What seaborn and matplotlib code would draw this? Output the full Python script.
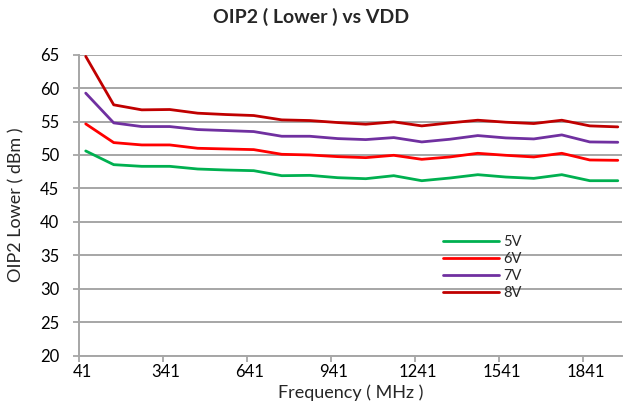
import matplotlib
matplotlib.use("Agg")
import matplotlib.pyplot as plt
import matplotlib.transforms as mtransforms
import seaborn as sns
import pandas as pd

freq = [65 + 100 * k for k in range(20)]
v5 = [50.6, 48.55, 48.3, 48.3, 47.9, 47.75, 47.65, 46.9, 46.95, 46.6,
      46.45, 46.9, 46.15, 46.55, 47.05, 46.7, 46.5, 47.05, 46.15, 46.15]
v6 = [54.65, 51.85, 51.5, 51.5, 51.0, 50.9, 50.8, 50.1, 50.0, 49.75,
      49.6, 49.95, 49.35, 49.7, 50.25, 49.95, 49.7, 50.25, 49.25, 49.2]
v7 = [59.25, 54.8, 54.25, 54.25, 53.8, 53.65, 53.5, 52.8, 52.8, 52.45,
      52.3, 52.6, 51.95, 52.35, 52.9, 52.55, 52.4, 53.0, 51.95, 51.9]
v8 = [64.75, 57.5, 56.75, 56.8, 56.25, 56.05, 55.9, 55.25, 55.15, 54.85,
      54.6, 54.95, 54.35, 54.8, 55.2, 54.9, 54.7, 55.2, 54.35, 54.2]
series_names = ["5V", "6V", "7V", "8V"]
colors = ["#00B050", "#FF0000", "#7030A0", "#C00000"]
xticks = [41, 341, 641, 941, 1241, 1541, 1841]
yticks = [20, 25, 30, 35, 40, 45, 50, 55, 60, 65]

rows = []
for name, vals in zip(series_names, [v5, v6, v7, v8]):
    for f, v in zip(freq, vals):
        rows.append({"Frequency": f, "OIP2": v, "VDD": name})
df = pd.DataFrame(rows)

sns.set_theme(style="white")
plt.rcParams["font.family"] = ["Lato", "DejaVu Sans"]

fig = plt.figure(figsize=(6.23, 4.13), dpi=100)
ax = fig.add_axes([79 / 623, 1 - 355.5 / 413, (622 - 79) / 623, (355.5 - 54.7) / 413])

grid_c = "#A6A6A6"
for y in yticks:
    ax.axhline(y, color=grid_c, lw=1.4, zorder=0)

sns.lineplot(data=df, x="Frequency", y="OIP2", hue="VDD", palette=colors,
             hue_order=series_names, linewidth=2.0, ax=ax, legend=True, zorder=3)

ax.set_xlim(41, 1980)
ax.set_ylim(20, 65)
ax.set_xticks(xticks)
ax.set_xticklabels([str(t) for t in xticks])
ax.set_yticks(yticks)
ax.tick_params(axis="both", labelsize=12, labelcolor="#000000", color=grid_c,
               length=4.3, width=1.3, direction="out")
ax.tick_params(axis="y", pad=10)
ax.tick_params(axis="x", pad=2)
ax.xaxis.set_ticks_position("bottom")
ax.yaxis.set_ticks_position("left")
shift = mtransforms.ScaledTranslation(3 / 100, 0, fig.dpi_scale_trans)
for lbl in ax.get_xticklabels():
    lbl.set_transform(lbl.get_transform() + shift)
for s in ["top", "right"]:
    ax.spines[s].set_visible(False)
for s in ["left", "bottom"]:
    ax.spines[s].set_color(grid_c)
    ax.spines[s].set_linewidth(1.4)

ax.set_xlabel("Frequency ( MHz )", fontsize=13, labelpad=3)
ax.set_ylabel("OIP2 Lower ( dBm )", fontsize=13)
ax.yaxis.set_label_coords(24 / 623, 0.5 * (1 - 355.5 / 413 + 1 - 54.7 / 413),
                          transform=fig.transFigure)
fig.suptitle("OIP2 ( Lower ) vs VDD", fontsize=14, fontweight="bold", y=0.98)

leg = ax.legend(loc="upper left", bbox_to_anchor=(0.66, 0.42), frameon=False,
                fontsize=10.5, handlelength=3.8, handletextpad=0.3,
                labelspacing=0.2, borderaxespad=0)
for line in leg.get_lines():
    line.set_linewidth(2.0)

fig.savefig("out.png", dpi=100)
